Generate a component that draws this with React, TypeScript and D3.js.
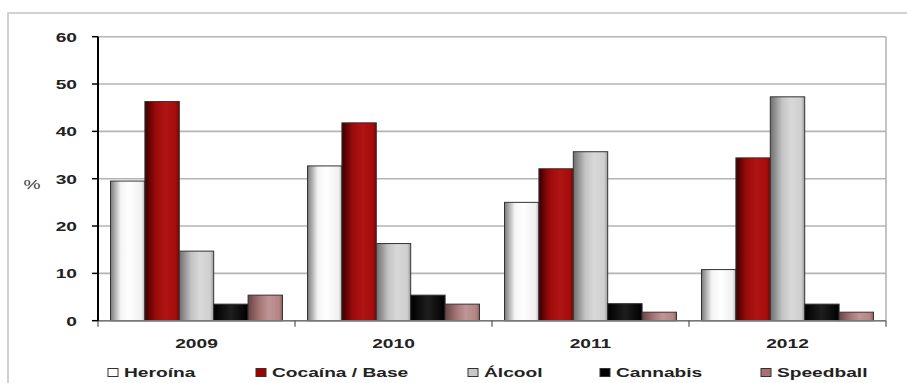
import React from "react";
import * as d3 from "d3";

const years = ["2009", "2010", "2011", "2012"];
const seriesNames = ["Heroína", "Cocaína / Base", "Álcool", "Cannabis", "Speedball"];
const heroina = [29.5, 32.7, 25.0, 10.8];
const cocaina = [46.3, 41.8, 32.1, 34.4];
const alcool = [14.7, 16.3, 35.7, 47.3];
const cannabis = [3.5, 5.4, 3.6, 3.5];
const speedball = [5.4, 3.5, 1.8, 1.8];
const yTicks = [0, 10, 20, 30, 40, 50, 60];

const seriesValues = [heroina, cocaina, alcool, cannabis, speedball];

const gradients = [
  { id: "g0", stops: [["0%", "#7a7a7a"], ["30%", "#f4f4f4"], ["55%", "#ffffff"], ["90%", "#f0f0f0"], ["100%", "#b8b8b8"]] },
  { id: "g1", stops: [["0%", "#3a0000"], ["30%", "#9a0a0a"], ["60%", "#b01414"], ["90%", "#a50c0c"], ["100%", "#800000"]] },
  { id: "g2", stops: [["0%", "#6e6e6e"], ["35%", "#c4c4c4"], ["60%", "#d8d8d8"], ["90%", "#cfcfcf"], ["100%", "#9a9a9a"]] },
  { id: "g3", stops: [["0%", "#000000"], ["50%", "#1e1e1e"], ["100%", "#000000"]] },
  { id: "g4", stops: [["0%", "#6a4444"], ["35%", "#a87878"], ["60%", "#c09595"], ["90%", "#b58585"], ["100%", "#906060"]] },
];
const legendColors = ["#ffffff", "#a00000", "#c8c8c8", "#000000", "#a87070"];
const legendX = [108, 256, 468, 600, 761];

const FONT = "'Liberation Sans', Arial, sans-serif";
const SX = 1.42;

function SText({ x, y, anchor, children, size = 13.5, weight = "bold", fill = "#222" }: any) {
  return (
    <text
      transform={`translate(${x},${y}) scale(${SX},1)`}
      textAnchor={anchor}
      fontFamily={FONT}
      fontWeight={weight}
      fontSize={size}
      fill={fill}
    >
      {children}
    </text>
  );
}

export default function App() {
  const left = 98;
  const right = 886;
  const top = 36.7;
  const bottom = 320.7;

  const x0 = d3.scaleBand<string>().domain(years).range([left, right]).paddingInner(0.127).paddingOuter(0.0635);
  const x1 = d3.scaleBand<string>().domain(seriesNames).range([0, x0.bandwidth()]).padding(0);
  const y = d3.scaleLinear().domain([0, 60]).range([bottom, top]);
  const step = (right - left) / years.length;

  return (
    <svg width={907} height={383} style={{ position: "absolute", left: 0, top: 0, background: "#fff" }}>
      <defs>
        {gradients.map((g) => (
          <linearGradient key={g.id} id={g.id} x1="0" x2="1" y1="0" y2="0">
            {g.stops.map(([o, c]) => (
              <stop key={o} offset={o} stopColor={c} />
            ))}
          </linearGradient>
        ))}
      </defs>
      {/* outer frame */}
      <rect x={8} y={13} width={940} height={400} fill="none" stroke="#c4c4c4" strokeWidth={1.5} />
      {/* gridlines */}
      {yTicks.map((t) => (
        <line key={t} x1={left} x2={right} y1={y(t)} y2={y(t)} stroke="#b4b4b4" strokeWidth={1.6} />
      ))}
      <line x1={right} x2={right} y1={top} y2={bottom} stroke="#b4b4b4" strokeWidth={1.6} />
      {/* bars */}
      {years.map((yr, i) => (
        <g key={yr}>
          {seriesNames.map((s, j) => {
            const v = seriesValues[j][i];
            const bx = (x0(yr) as number) + (x1(s) as number);
            return (
              <rect
                key={s}
                x={bx}
                y={y(v)}
                width={x1.bandwidth()}
                height={y(0) - y(v)}
                fill={`url(#g${j})`}
                stroke="#333"
                strokeWidth={1}
              />
            );
          })}
        </g>
      ))}
      {/* x axis */}
      <line x1={left} x2={right} y1={bottom} y2={bottom} stroke="#777" strokeWidth={1.5} />
      {d3.range(years.length + 1).map((k) => (
        <line key={k} x1={left + k * step} x2={left + k * step} y1={bottom} y2={bottom + 6} stroke="#555" strokeWidth={1.2} />
      ))}
      {/* y axis */}
      <line x1={left} x2={left} y1={top} y2={bottom} stroke="#000" strokeWidth={2} />
      {yTicks.map((t) => (
        <line key={t} x1={left - 6} x2={left} y1={y(t)} y2={y(t)} stroke="#000" strokeWidth={1.5} />
      ))}
      {yTicks.map((t) => (
        <SText key={t} x={77} y={y(t) + 5} anchor="end">
          {t}
        </SText>
      ))}
      <SText x={32} y={189} anchor="middle" weight="normal" fill="#333">%</SText>
      {years.map((yr) => (
        <SText key={yr} x={(x0(yr) as number) + x0.bandwidth() / 2} y={348} anchor="middle">
          {yr}
        </SText>
      ))}
      {/* legend */}
      {seriesNames.map((s, j) => (
        <g key={s}>
          <rect x={legendX[j]} y={368.5} width={10} height={8} fill={legendColors[j]} stroke="#333" strokeWidth={1} />
          <SText x={legendX[j] + 16} y={377} anchor="start">
            {s}
          </SText>
        </g>
      ))}
    </svg>
  );
}
